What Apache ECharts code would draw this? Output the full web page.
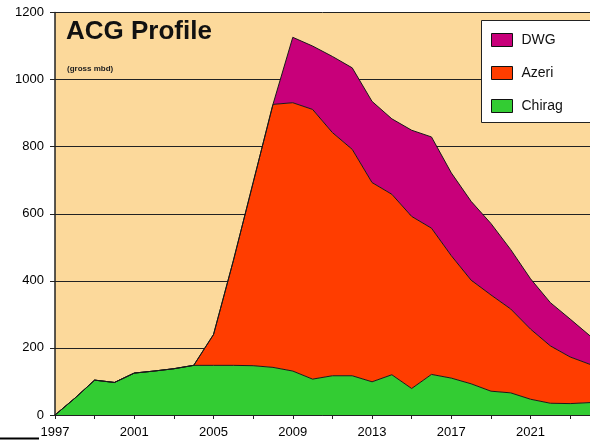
<!DOCTYPE html>
<html>
<head>
<meta charset="utf-8">
<script src="https://cdn.jsdelivr.net/npm/echarts@6/dist/echarts.min.js"></script>
<style>
html,body{margin:0;padding:0;background:#fff;}
#c{width:590px;height:443px;}
</style>
</head>
<body>
<div id="c"></div>
<script>
// Categories (years)
const years = ['1997','1998','1999','2000','2001','2002','2003','2004','2005','2006','2007','2008','2009','2010','2011','2012','2013','2014','2015','2016','2017','2018','2019','2020','2021','2022','2023','2024'];
// Series values (gross mbd)
const chirag = [0, 50, 104, 97, 125, 131, 138, 148, 148, 148, 147, 142, 131, 107, 117, 117, 99, 120, 79, 121, 110, 93, 71, 66, 47, 35, 34, 37];
const azeri  = [0, 0, 0, 0, 0, 0, 0, 0, 92, 312, 546, 784, 800, 804, 725, 675, 594, 538, 513, 436, 365, 309, 287, 250, 209, 171, 139, 114];
const dwg    = [0, 0, 0, 0, 0, 0, 0, 0, 0, 0, 0, 0, 195, 189, 227, 243, 242, 225, 257, 272, 247, 235, 213, 177, 150, 129, 113, 85];
// Tick values
const yTicks = [0, 200, 400, 600, 800, 1000, 1200];

const C_DWG = '#C8007A', C_AZ = '#FF3D00', C_CH = '#33CC33';
const FONT = 'Liberation Sans, Arial, sans-serif';

const chart = echarts.init(document.getElementById('c'), null, {renderer: 'canvas'});

function areaSeries(name, data, color) {
  return {
    name: name, type: 'line', stack: 'total', data: data,
    showSymbol: false, symbol: 'none',
    color: color,
    itemStyle: {color: color},
    lineStyle: {color: '#1a1a1a', width: 1},
    areaStyle: {color: color, opacity: 1},
    emphasis: {disabled: true},
    animation: false
  };
}

chart.setOption({
  animation: false,
  title: [
    {text: 'ACG Profile', left: 61, top: 14,
     textStyle: {fontFamily: FONT, fontSize: 26, fontWeight: 'bold', color: '#111'}},
    {text: '(gross mbd)', left: 62, top: 60,
     textStyle: {fontFamily: FONT, fontSize: 8, fontWeight: 'bold', color: '#222'}}
  ],
  legend: {
    data: ['DWG', 'Azeri', 'Chirag'],
    orient: 'vertical', left: 481, top: 20,
    padding: [13, 10, 10, 10],
    itemGap: 19,
    itemWidth: 21, itemHeight: 13,
    icon: 'rect',
    itemStyle: {borderColor: '#111', borderWidth: 1},
    backgroundColor: 'transparent', borderWidth: 0,
    textStyle: {fontFamily: FONT, fontSize: 14, color: '#111', padding: [0, 0, 0, 4]},
    selectedMode: false
  },
  grid: {
    left: 55, top: 12.5, bottom: 28, right: -7.7,
    show: true, backgroundColor: '#FCD99B', borderWidth: 0
  },
  xAxis: {
    type: 'category', data: years, boundaryGap: false,
    axisLine: {show: true, lineStyle: {color: '#222', width: 1.5}},
    axisTick: {show: true, interval: 1, length: 4, lineStyle: {color: '#222'}},
    axisLabel: {interval: 3, margin: 11, fontFamily: FONT, fontSize: 13, color: '#000'},
    splitLine: {show: false}
  },
  yAxis: {
    type: 'value', min: yTicks[0], max: yTicks[yTicks.length - 1], interval: yTicks[1] - yTicks[0],
    axisLine: {show: true, lineStyle: {color: '#222', width: 1.5}},
    axisTick: {show: true, length: 5, lineStyle: {color: '#222'}},
    axisLabel: {margin: 11, fontFamily: FONT, fontSize: 13, color: '#000',
                formatter: function (v) { return String(v); }},
    splitLine: {show: true, lineStyle: {color: '#222', width: 1}}
  },
  series: [
    areaSeries('Chirag', chirag, C_CH),
    areaSeries('Azeri', azeri, C_AZ),
    areaSeries('DWG', dwg, C_DWG)
  ],
  graphic: [
    {type: 'rect', z: 3, shape: {x: 481.5, y: 20.5, width: 160, height: 102},
     style: {fill: '#ffffff', stroke: '#222', lineWidth: 1}, silent: true},
    {type: 'line', shape: {x1: 0, y1: 438.5, x2: 39, y2: 438.5}, style: {stroke: '#000', lineWidth: 2}, silent: true}
  ]
});
</script>
</body>
</html>
